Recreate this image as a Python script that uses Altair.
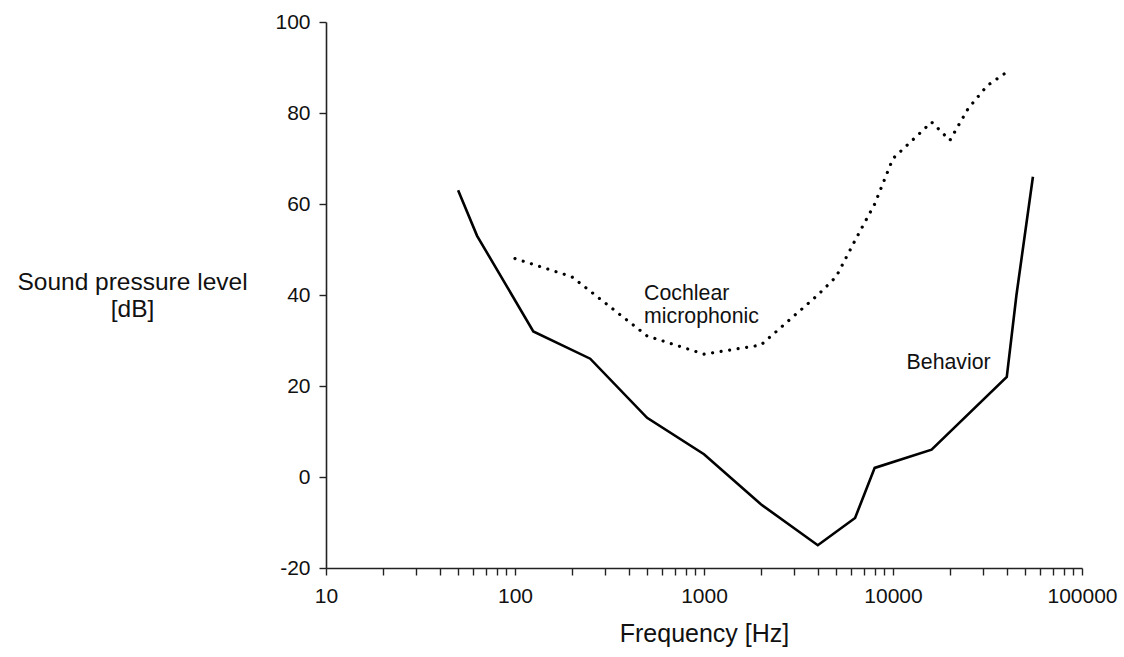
import altair as alt
import pandas as pd

# Behavior threshold (solid line)
beh_freq = [50, 63, 125, 250, 500, 1000, 2000, 4000, 6300, 8000, 16000, 40000, 45000, 55000]
beh_db = [63, 53, 32, 26, 13, 5, -6, -15, -9, 2, 6, 22, 40, 66]

# Cochlear microphonic (dotted line)
cm_freq = [100, 200, 500, 1000, 2000, 4000, 5000, 6300, 8000, 10000, 16000, 20000, 25000, 31500, 40000]
cm_db = [48, 44, 31, 27, 29, 40, 44, 52, 60, 70, 78, 74, 81, 86, 89]

x_ticks = [m * 10 ** e for e in range(1, 5) for m in range(1, 10)] + [100000]
y_ticks = [-20, 0, 20, 40, 60, 80, 100]

labels_text = ["Cochlear\nmicrophonic", "Behavior"]
labels_freq = [482, 11800]
labels_db = [39, 23.8]

FONT = "Liberation Sans"

beh = pd.DataFrame({"freq": beh_freq, "db": beh_db})
cm = pd.DataFrame({"freq": cm_freq, "db": cm_db})
lab = pd.DataFrame({"freq": labels_freq, "db": labels_db, "text": labels_text})

xscale = alt.Scale(type="log", domain=[10, 100000])
yscale = alt.Scale(domain=[-20, 100], nice=False, zero=False)

xaxis = alt.Axis(
    values=x_ticks,
    labelExpr="indexof(['10','100','1000','10000','100000'], toString(datum.value)) >= 0 ? toString(datum.value) : ''",
    title="Frequency [Hz]",
    titleFontSize=25,
    titleFontWeight="normal",
    titleBaseline="alphabetic",
    titleY=73,
    labelFontSize=21,
    labelPadding=10,
    tickSize=7,
    grid=False,
    labelFlush=False,
    labelOverlap=False,
)
yaxis = alt.Axis(
    values=y_ticks,
    labelExpr="toString(datum.value)",
    title=["Sound pressure level", "[dB]"],
    titleAngle=0,
    titleAlign="center",
    titleBaseline="alphabetic",
    titleX=-194,
    titleY=267.5,
    titleFontSize=24.5,
    titleFontWeight="normal",
    titleLineHeight=26.5,
    labelFontSize=21,
    labelPadding=9,
    tickSize=7,
    grid=False,
)

behavior = alt.Chart(beh).mark_line(color="black", strokeWidth=2.6, strokeJoin="miter").encode(
    x=alt.X("freq:Q", scale=xscale, axis=xaxis),
    y=alt.Y("db:Q", scale=yscale, axis=yaxis),
    order=alt.Order("freq:Q"),
)

cochlear = alt.Chart(cm).mark_line(
    color="black", strokeWidth=3.2, strokeDash=[0.01, 8.6], strokeCap="round"
).encode(
    x=alt.X("freq:Q", scale=xscale),
    y=alt.Y("db:Q", scale=yscale),
    order=alt.Order("freq:Q"),
)

texts = alt.Chart(lab).mark_text(
    align="left", baseline="alphabetic", fontSize=21.3, font=FONT, color="#111",
    lineBreak="\n", lineHeight=23
).encode(
    x=alt.X("freq:Q", scale=xscale),
    y=alt.Y("db:Q", scale=yscale),
    text="text:N",
)

chart = alt.layer(behavior, cochlear, texts).properties(
    width=756,
    height=546,
    autosize="none",
    padding={"left": 326, "top": 22, "right": 42, "bottom": 89},
    background="white",
).configure_view(stroke=None).configure_axis(
    domainColor="#222",
    domainWidth=1.6,
    tickColor="#222",
    tickWidth=1.4,
    labelColor="#111",
    titleColor="#111",
    labelFont=FONT,
    titleFont=FONT,
)

chart.save("out.html", embed_options={"renderer": "svg", "actions": False})
